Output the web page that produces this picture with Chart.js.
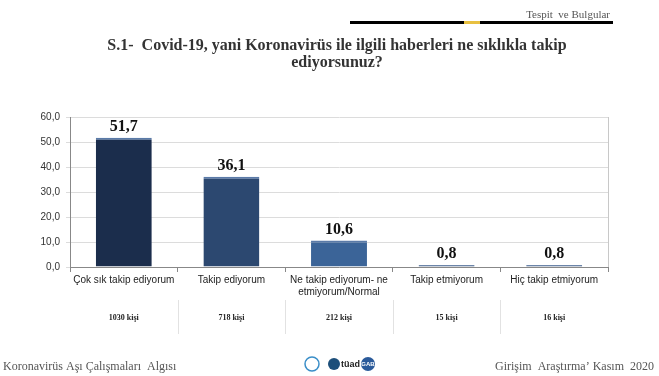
<!DOCTYPE html>
<html>
<head>
<meta charset="utf-8">
<script src="https://cdn.jsdelivr.net/npm/chart.js@4"></script>
<style>
  html, body { margin: 0; padding: 0; background: #fff; }
  #wrap { width: 659px; height: 376px; position: relative; }
</style>
</head>
<body>
<div id="wrap"><canvas id="chart" width="659" height="376"></canvas></div>
<script>
// veriler
const categories = [
    'Çok sık takip ediyorum',
    'Takip ediyorum',
    ['Ne takip ediyorum- ne', 'etmiyorum/Normal'],
    'Takip etmiyorum',
    'Hiç takip etmiyorum'
];
const values = [51.7, 36.1, 10.6, 0.8, 0.8];
const counts = ['1030 kişi', '718 kişi', '212 kişi', '15 kişi', '16 kişi'];
const yTicks = [0, 10, 20, 30, 40, 50, 60];
const barColors = ['#1b2d4c', '#2c4870', '#3b6498', '#2c4870', '#2c4870'];

const fmt = v => v.toFixed(1).replace('.', ',');

// başlık, etiketler, alt bilgi
const decorPlugin = {
    id: 'decor',
    afterDraw(chart) {
        const c = chart.ctx;
        const x = chart.scales.x;
        const area = chart.chartArea;
        c.save();

        // üst çizgi
        c.fillStyle = '#000';
        c.fillRect(350, 21, 263, 3);
        c.fillStyle = '#e8c040';
        c.fillRect(464, 21, 16, 3);
        c.fillStyle = '#555';
        c.font = '11px "Liberation Serif"';
        c.textAlign = 'right';
        c.textBaseline = 'alphabetic';
        c.fillText('Tespit  ve Bulgular', 610, 18);

        // başlık
        c.fillStyle = '#333';
        c.font = 'bold 16px "Liberation Serif"';
        c.textAlign = 'center';
        c.fillText('S.1-  Covid-19, yani Koronavirüs ile ilgili haberleri ne sıklıkla takip', 337, 50);
        c.fillText('ediyorsunuz?', 337, 67);

        // sağ kenar
        c.strokeStyle = '#c8c8c8';
        c.lineWidth = 1;
        c.beginPath();
        c.moveTo(area.right + 0.5, area.top);
        c.lineTo(area.right + 0.5, area.bottom);
        c.stroke();

        // değer etiketleri
        const meta = chart.getDatasetMeta(0);
        c.fillStyle = '#111';
        c.font = 'bold 16px "Liberation Serif"';
        c.textBaseline = 'bottom';
        meta.data.forEach((bar, i) => {
            c.fillText(fmt(values[i]), bar.x, bar.y - 3);
        });

        // kişi sayıları ve ayırıcılar
        c.font = 'bold 8px "Liberation Serif"';
        c.textBaseline = 'middle';
        c.fillStyle = '#222';
        c.strokeStyle = '#e2e2e2';
        counts.forEach((t, i) => {
            c.fillText(t, x.getPixelForValue(i), 318);
            if (i > 0) {
                const bx = Math.round((x.getPixelForValue(i - 1) + x.getPixelForValue(i)) / 2) + 0.5;
                c.beginPath();
                c.moveTo(bx, 300);
                c.lineTo(bx, 334);
                c.stroke();
            }
        });

        // alt bilgi
        c.textBaseline = 'alphabetic';
        c.font = '12px "Liberation Serif"';
        c.fillStyle = '#555';
        c.textAlign = 'left';
        c.fillText('Koronavirüs Aşı Çalışmaları  Algısı', 3, 370);
        c.textAlign = 'right';
        c.fillText('Girişim  Araştırma\u2019 Kasım  2020', 654, 370);

        // logolar
        c.strokeStyle = '#3a8ec8';
        c.lineWidth = 1.5;
        c.beginPath();
        c.arc(312, 364, 7, 0, Math.PI * 2);
        c.stroke();
        c.fillStyle = '#1d4f7a';
        c.beginPath();
        c.arc(334, 364, 6, 0, Math.PI * 2);
        c.fill();
        c.fillStyle = '#222';
        c.font = 'bold 9px "Liberation Sans"';
        c.textAlign = 'left';
        c.fillText('tüad', 341, 367);
        c.fillStyle = '#2a5a9a';
        c.beginPath();
        c.arc(368, 364, 7, 0, Math.PI * 2);
        c.fill();
        c.fillStyle = '#fff';
        c.font = 'bold 6px "Liberation Sans"';
        c.textAlign = 'center';
        c.fillText('GAB', 368, 366);
        c.restore();
    }
};

new Chart(document.getElementById('chart'), {
    type: 'bar',
    data: {
        labels: categories,
        datasets: [{
            data: values,
            backgroundColor: barColors,
            borderColor: '#5a7aa8',
            borderWidth: { top: 2, left: 0, right: 0, bottom: 0 },
            borderSkipped: false,
            barPercentage: 0.52,
            categoryPercentage: 1
        }]
    },
    options: {
        responsive: false,
        animation: false,
        layout: { padding: { left: 30, right: 51, top: 117, bottom: 50 } },
        plugins: {
            legend: { display: false },
            tooltip: { enabled: false }
        },
        scales: {
            y: {
                min: 0,
                max: 60,
                afterBuildTicks: s => { s.ticks = yTicks.map(v => ({ value: v })); },
                afterFit: s => { s.width = 40; },
                ticks: {
                    color: '#333',
                    font: { family: 'Liberation Sans', size: 10 },
                    padding: 6,
                    callback: v => fmt(v)
                },
                grid: { color: '#dcdcdc', drawTicks: true, tickLength: 4 },
                border: { color: '#888' }
            },
            x: {
                afterFit: s => { s.height = 59; },
                ticks: {
                    color: '#222',
                    font: { family: 'Liberation Sans', size: 10 },
                    maxRotation: 0,
                    autoSkip: false,
                    padding: 2
                },
                grid: { offset: true, drawOnChartArea: false, tickLength: 5, color: '#888' },
                border: { color: '#888' }
            }
        }
    },
    plugins: [decorPlugin]
});
</script>
</body>
</html>
